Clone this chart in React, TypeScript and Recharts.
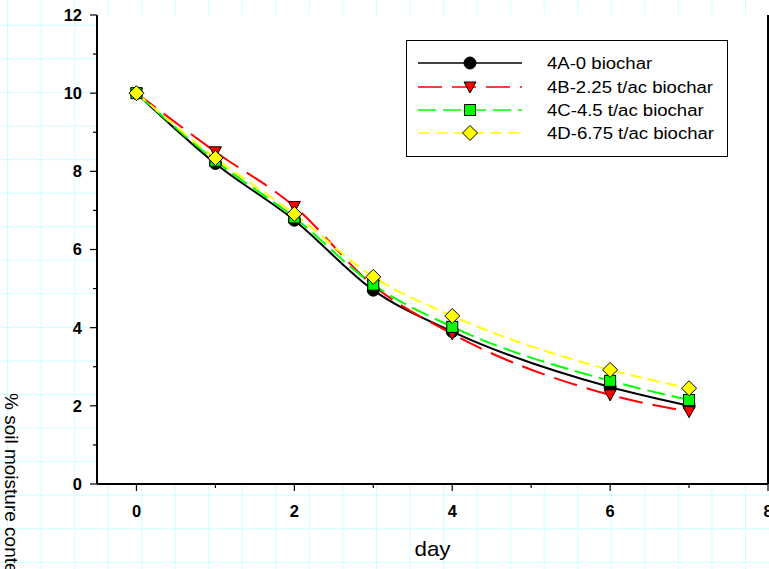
import { LineChart, Line, XAxis, YAxis, CartesianGrid, Legend } from 'recharts';

// values
const days = [0, 1, 2, 3, 4, 6, 7];
const moist4A = [10, 8.2, 6.75, 4.96, 3.9, 2.48, 2.0];
const moist4B = [10, 8.5, 7.1, 5.08, 3.84, 2.28, 1.85];
const moist4C = [10, 8.27, 6.82, 5.1, 4.02, 2.64, 2.15];
const moist4D = [10, 8.34, 6.91, 5.3, 4.3, 2.92, 2.45];

const xTicks = [0, 1, 2, 3, 4, 5, 6, 7, 8];
const yTicks = [0, 1, 2, 3, 4, 5, 6, 7, 8, 9, 10, 11, 12];

const FONT = '"Liberation Sans", Arial, sans-serif';
const TICK_SIZE = 7;
const X_MARGIN = 14;
const Y_MARGIN = 8;
// the original text is a bit wider than plain Arial
const STRETCH = 1.16;

const data = days.map((d, i) => ({
  day: d,
  a: moist4A[i],
  b: moist4B[i],
  c: moist4C[i],
  d: moist4D[i],
}));

type Shape = 'circle' | 'triangle' | 'square' | 'diamond';

const series: { key: string; name: string; color: string; dash?: string; shape: Shape }[] = [
  { key: 'a', name: '4A-0 biochar', color: '#000000', shape: 'circle' },
  { key: 'b', name: '4B-2.25 t/ac biochar', color: '#ff0000', dash: '24 10', shape: 'triangle' },
  { key: 'c', name: '4C-4.5 t/ac biochar', color: '#00ff00', dash: '18 7', shape: 'square' },
  { key: 'd', name: '4D-6.75 t/ac biochar', color: '#ffff00', dash: '12 6', shape: 'diamond' },
];

function Marker({ cx, cy, shape, color }: { cx: number; cy: number; shape: Shape; color: string }) {
  if (cx == null || cy == null) return null;
  if (shape === 'circle') return <circle cx={cx} cy={cy} r={6} fill={color} stroke="#000" strokeWidth={1} />;
  if (shape === 'triangle')
    return (
      <polygon
        points={`${cx - 6},${cy - 5} ${cx + 6},${cy - 5} ${cx},${cy + 6}`}
        fill={color}
        stroke="#000"
        strokeWidth={1}
      />
    );
  if (shape === 'square')
    return <rect x={cx - 5.5} y={cy - 5.5} width={11} height={11} fill={color} stroke="#000" strokeWidth={1} />;
  return (
    <polygon
      points={`${cx},${cy - 7.5} ${cx + 7.5},${cy} ${cx},${cy + 7.5} ${cx - 7.5},${cy}`}
      fill={color}
      stroke="#000"
      strokeWidth={1}
    />
  );
}

const labelStyle = { fontFamily: FONT, fontSize: 16.5, fontWeight: 'bold' as const, fill: '#000' };

function BottomTick(props: any) {
  const { x, y, payload } = props;
  const major = payload.value % 2 === 0;
  const y0 = y - TICK_SIZE - X_MARGIN;
  return (
    <g>
      <line x1={x} x2={x} y1={y0} y2={y0 + (major ? 7 : 4)} stroke="#000" strokeWidth={1.2} />
      {major && (
        <text x={x} y={y} dy="0.71em" textAnchor="middle" style={labelStyle}>
          {payload.value}
        </text>
      )}
    </g>
  );
}

function TopTick(props: any) {
  const { x, y, payload } = props;
  const major = payload.value % 2 === 0;
  const y0 = y + TICK_SIZE + X_MARGIN;
  return <line x1={x} x2={x} y1={y0} y2={y0 - (major ? 7 : 4)} stroke="#000" strokeWidth={1.2} />;
}

function LeftTick(props: any) {
  const { x, y, payload } = props;
  const major = payload.value % 2 === 0;
  const x0 = x + TICK_SIZE + Y_MARGIN;
  return (
    <g>
      <line x1={x0} x2={x0 - (major ? 7 : 4)} y1={y} y2={y} stroke="#000" strokeWidth={1.2} />
      {major && (
        <text x={x} y={y} dy="0.355em" textAnchor="end" style={labelStyle}>
          {payload.value}
        </text>
      )}
    </g>
  );
}

function RightTick(props: any) {
  const { x, y, payload } = props;
  const major = payload.value % 2 === 0;
  const x0 = x - TICK_SIZE - Y_MARGIN;
  return <line x1={x0} x2={x0 + (major ? 7 : 4)} y1={y} y2={y} stroke="#000" strokeWidth={1.2} />;
}

function LegendBox() {
  const rows = [23, 47, 70, 93];
  return (
    <svg width={322} height={117} style={{ display: 'block' }}>
      <rect x={0.5} y={0.5} width={321} height={116} fill="#fff" stroke="#000" strokeWidth={1} />
      {series.map((s, i) => (
        <g key={s.key}>
          <line x1={12} x2={116} y1={rows[i]} y2={rows[i]} stroke={s.color} strokeWidth={1.6} strokeDasharray={s.dash} />
          <Marker cx={64} cy={rows[i]} shape={s.shape} color={s.color} />
          <text
            transform={`translate(141,${rows[i]}) scale(${STRETCH},1)`}
            dy="0.355em"
            style={{ fontFamily: FONT, fontSize: 16, fill: '#000' }}
          >
            {s.name}
          </text>
        </g>
      ))}
    </svg>
  );
}

function DayLabel(props: any) {
  const vb = props.viewBox || {};
  const cx = vb.x + vb.width / 2;
  const by = vb.y + vb.height - 13;
  return (
    <text
      transform={`translate(${cx},${by}) scale(1.12,1)`}
      textAnchor="middle"
      style={{ fontFamily: FONT, fontSize: 20, fill: '#000' }}
    >
      day
    </text>
  );
}

export default function App() {
  return (
    <div
      style={{
        position: 'absolute',
        left: 0,
        top: 0,
        width: 769,
        height: 569,
        overflow: 'hidden',
        backgroundColor: '#fff',
        backgroundImage:
          'linear-gradient(to right, #ccffff 1px, transparent 1px), linear-gradient(to bottom, #ccffff 1px, transparent 1px)',
        backgroundSize: '33.55px 33.55px',
        backgroundPosition: '7px 25px',
      }}
    >
      <LineChart width={769} height={569} data={data} margin={{ top: 15, right: 0, bottom: 0, left: 37 }}>
        <CartesianGrid fill="#fff" fillOpacity={1} stroke="none" horizontal={false} vertical={false} />
        <XAxis
          dataKey="day"
          type="number"
          domain={[-0.5, 8]}
          ticks={xTicks}
          interval={0}
          height={85}
          axisLine={{ stroke: '#000', strokeWidth: 2 }}
          tickLine={false}
          tickSize={TICK_SIZE}
          tickMargin={X_MARGIN}
          tick={<BottomTick />}
          label={{ content: (p: any) => <DayLabel {...p} /> }}
        />
        <XAxis
          xAxisId="top"
          orientation="top"
          dataKey="day"
          type="number"
          domain={[-0.5, 8]}
          ticks={xTicks}
          interval={0}
          height={0}
          axisLine={{ stroke: '#000', strokeWidth: 2 }}
          tickLine={false}
          tickSize={TICK_SIZE}
          tickMargin={X_MARGIN}
          tick={<TopTick />}
        />
        <YAxis
          type="number"
          domain={[0, 12]}
          ticks={yTicks}
          interval={0}
          width={60}
          axisLine={{ stroke: '#000', strokeWidth: 2 }}
          tickLine={false}
          tickSize={TICK_SIZE}
          tickMargin={Y_MARGIN}
          tick={<LeftTick />}
          label={{
            content: () => (
              <text
                transform="translate(5,393) rotate(90)"
                style={{ fontFamily: FONT, fontSize: 19, fill: '#000' }}
              >
                % soil moisture content
              </text>
            ),
          }}
        />
        <YAxis
          yAxisId="right"
          orientation="right"
          type="number"
          domain={[0, 12]}
          ticks={yTicks}
          interval={0}
          width={1}
          axisLine={{ stroke: '#000', strokeWidth: 2 }}
          tickLine={false}
          tickSize={TICK_SIZE}
          tickMargin={Y_MARGIN}
          tick={<RightTick />}
        />
        {series.map((s) => (
          <Line
            key={s.key}
            dataKey={s.key}
            name={s.name}
            type="monotone"
            stroke={s.color}
            strokeWidth={2}
            strokeDasharray={s.dash}
            isAnimationActive={false}
            activeDot={false}
            dot={(p: any) => <Marker key={`${s.key}-${p.index}`} cx={p.cx} cy={p.cy} shape={s.shape} color={s.color} />}
          />
        ))}
        <Legend
          layout="horizontal"
          verticalAlign="middle"
          align="center"
          content={() => <LegendBox />}
          wrapperStyle={{ position: 'absolute', left: 406, top: 40, width: 322, height: 117 }}
        />
      </LineChart>
    </div>
  );
}
